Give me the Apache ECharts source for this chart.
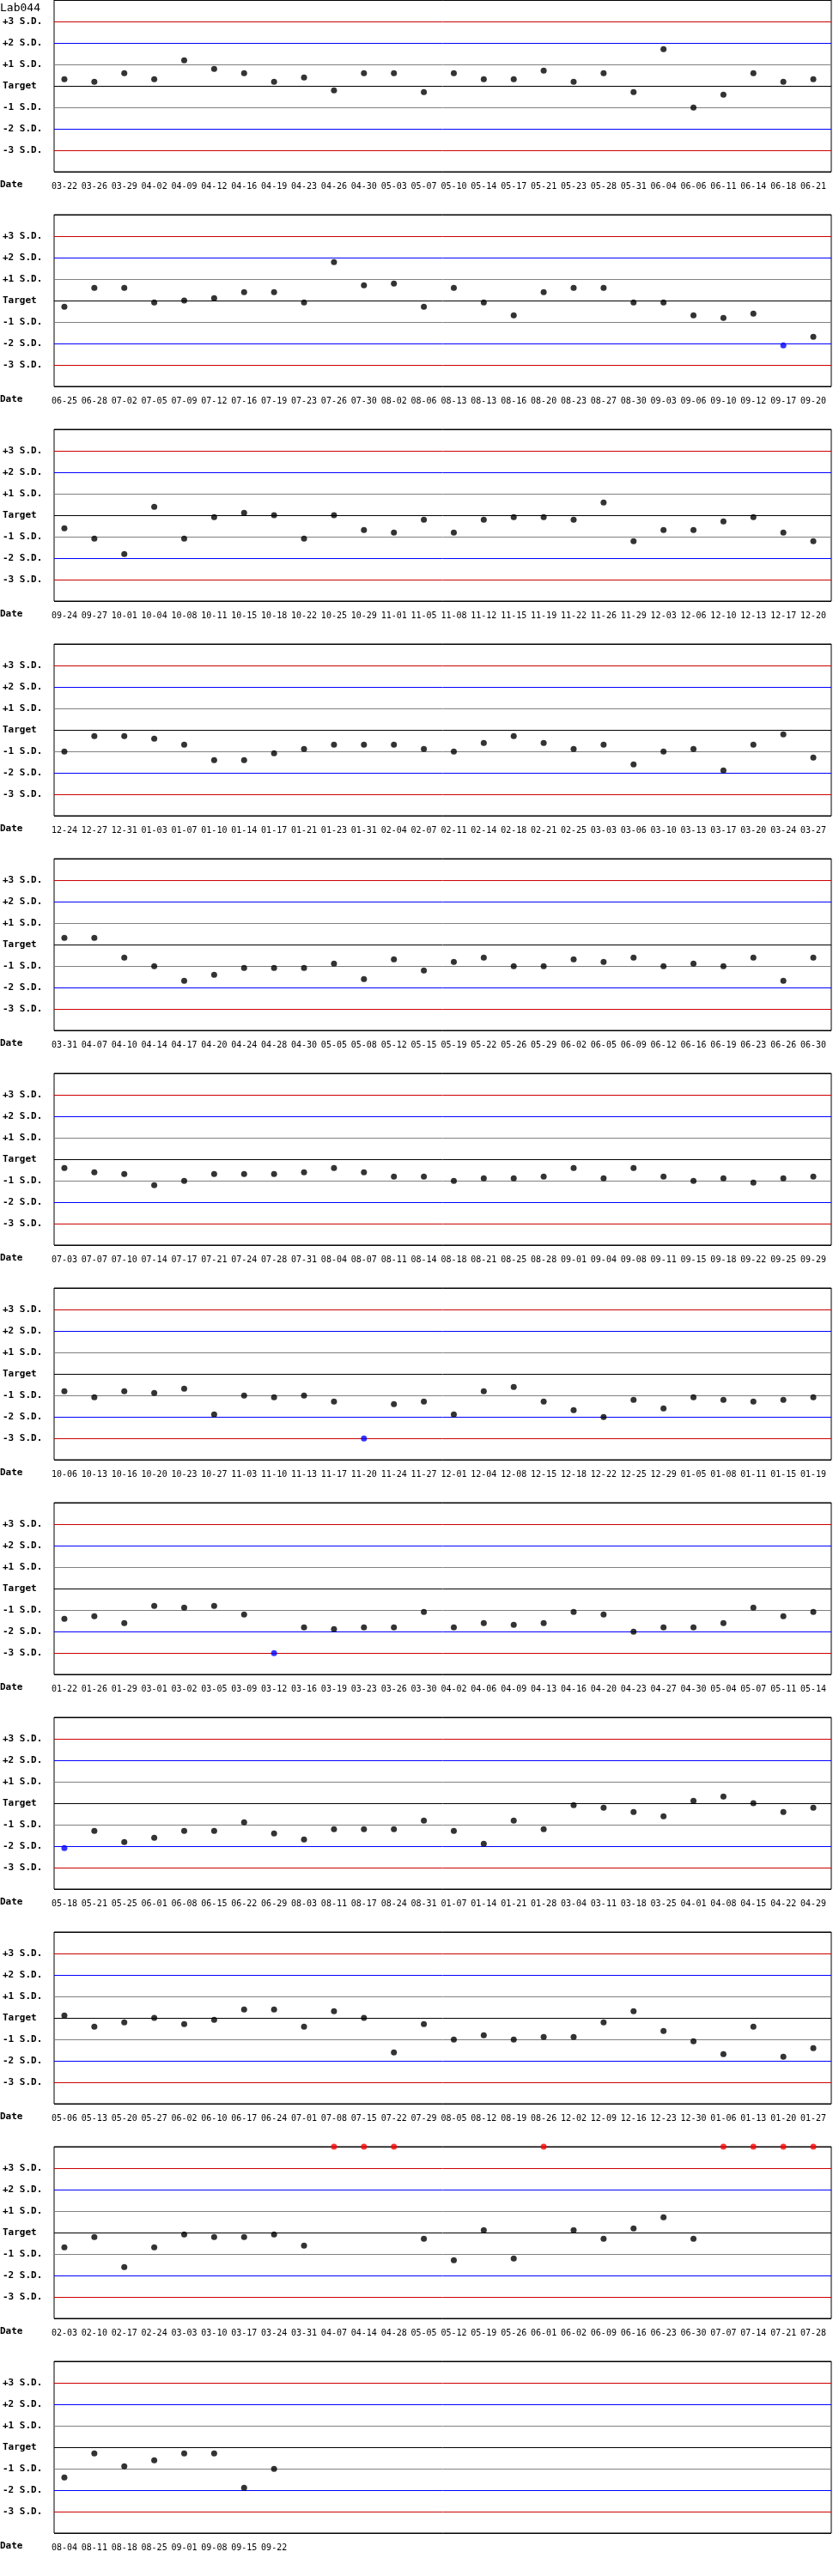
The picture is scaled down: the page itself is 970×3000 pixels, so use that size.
<!DOCTYPE html>
<html>
<head>
<meta charset="utf-8">
<script src="https://cdn.jsdelivr.net/npm/echarts@6/dist/echarts.min.js"></script>
<style>
html,body{margin:0;padding:0;background:#fff;}
#chart{width:970px;height:3000px;}
</style>
</head>
<body>
<div id="chart"></div>
<script>
// ---- data (values in S.D. units from target; 'high' = above chart range) ----
const HIGH = 'high';
const chartTitle = 'Lab044';
const yTickLabels = ['+3 S.D.', '+2 S.D.', '+1 S.D.', 'Target', '-1 S.D.', '-2 S.D.', '-3 S.D.'];
const yTickValues = [3, 2, 1, 0, -1, -2, -3];

const dates01 = ['03-22','03-26','03-29','04-02','04-09','04-12','04-16','04-19','04-23','04-26','04-30','05-03','05-07','05-10','05-14','05-17','05-21','05-23','05-28','05-31','06-04','06-06','06-11','06-14','06-18','06-21'];
const sd01 = [0.31,0.19,0.59,0.31,1.19,0.79,0.59,0.19,0.39,-0.21,0.59,0.59,-0.29,0.59,0.31,0.31,0.71,0.19,0.59,-0.29,1.71,-1.01,-0.41,0.59,0.19,0.31];

const dates02 = ['06-25','06-28','07-02','07-05','07-09','07-12','07-16','07-19','07-23','07-26','07-30','08-02','08-06','08-13','08-13','08-16','08-20','08-23','08-27','08-30','09-03','09-06','09-10','09-12','09-17','09-20'];
const sd02 = [-0.29,0.59,0.59,-0.09,0,0.11,0.39,0.39,-0.09,1.79,0.71,0.79,-0.29,0.59,-0.09,-0.69,0.39,0.59,0.59,-0.09,-0.09,-0.69,-0.81,-0.61,-2.09,-1.69];

const dates03 = ['09-24','09-27','10-01','10-04','10-08','10-11','10-15','10-18','10-22','10-25','10-29','11-01','11-05','11-08','11-12','11-15','11-19','11-22','11-26','11-29','12-03','12-06','12-10','12-13','12-17','12-20'];
const sd03 = [-0.61,-1.09,-1.81,0.39,-1.09,-0.09,0.11,0,-1.09,0,-0.69,-0.81,-0.21,-0.81,-0.21,-0.09,-0.09,-0.21,0.59,-1.21,-0.69,-0.69,-0.29,-0.09,-0.81,-1.21];

const dates04 = ['12-24','12-27','12-31','01-03','01-07','01-10','01-14','01-17','01-21','01-23','01-31','02-04','02-07','02-11','02-14','02-18','02-21','02-25','03-03','03-06','03-10','03-13','03-17','03-20','03-24','03-27'];
const sd04 = [-1.01,-0.29,-0.29,-0.41,-0.69,-1.41,-1.41,-1.09,-0.89,-0.69,-0.69,-0.69,-0.89,-1.01,-0.61,-0.29,-0.61,-0.89,-0.69,-1.61,-1.01,-0.89,-1.89,-0.69,-0.21,-1.29];

const dates05 = ['03-31','04-07','04-10','04-14','04-17','04-20','04-24','04-28','04-30','05-05','05-08','05-12','05-15','05-19','05-22','05-26','05-29','06-02','06-05','06-09','06-12','06-16','06-19','06-23','06-26','06-30'];
const sd05 = [0.31,0.31,-0.61,-1.01,-1.69,-1.41,-1.09,-1.09,-1.09,-0.89,-1.61,-0.69,-1.21,-0.81,-0.61,-1.01,-1.01,-0.69,-0.81,-0.61,-1.01,-0.89,-1.01,-0.61,-1.69,-0.61];

const dates06 = ['07-03','07-07','07-10','07-14','07-17','07-21','07-24','07-28','07-31','08-04','08-07','08-11','08-14','08-18','08-21','08-25','08-28','09-01','09-04','09-08','09-11','09-15','09-18','09-22','09-25','09-29'];
const sd06 = [-0.41,-0.61,-0.69,-1.21,-1.01,-0.69,-0.69,-0.69,-0.61,-0.41,-0.61,-0.81,-0.81,-1.01,-0.89,-0.89,-0.81,-0.41,-0.89,-0.41,-0.81,-1.01,-0.89,-1.09,-0.89,-0.81];

const dates07 = ['10-06','10-13','10-16','10-20','10-23','10-27','11-03','11-10','11-13','11-17','11-20','11-24','11-27','12-01','12-04','12-08','12-15','12-18','12-22','12-25','12-29','01-05','01-08','01-11','01-15','01-19'];
const sd07 = [-0.81,-1.09,-0.81,-0.89,-0.69,-1.89,-1.01,-1.09,-1.01,-1.29,-3.01,-1.41,-1.29,-1.89,-0.81,-0.61,-1.29,-1.69,-2.01,-1.21,-1.61,-1.09,-1.21,-1.29,-1.21,-1.09];

const dates08 = ['01-22','01-26','01-29','03-01','03-02','03-05','03-09','03-12','03-16','03-19','03-23','03-26','03-30','04-02','04-06','04-09','04-13','04-16','04-20','04-23','04-27','04-30','05-04','05-07','05-11','05-14'];
const sd08 = [-1.41,-1.29,-1.61,-0.81,-0.89,-0.81,-1.21,-3.01,-1.81,-1.89,-1.81,-1.81,-1.09,-1.81,-1.61,-1.69,-1.61,-1.09,-1.21,-2.01,-1.81,-1.81,-1.61,-0.89,-1.29,-1.09];

const dates09 = ['05-18','05-21','05-25','06-01','06-08','06-15','06-22','06-29','08-03','08-11','08-17','08-24','08-31','01-07','01-14','01-21','01-28','03-04','03-11','03-18','03-25','04-01','04-08','04-15','04-22','04-29'];
const sd09 = [-2.09,-1.29,-1.81,-1.61,-1.29,-1.29,-0.89,-1.41,-1.69,-1.21,-1.21,-1.21,-0.81,-1.29,-1.89,-0.81,-1.21,-0.09,-0.21,-0.41,-0.61,0.11,0.31,0,-0.41,-0.21];

const dates10 = ['05-06','05-13','05-20','05-27','06-02','06-10','06-17','06-24','07-01','07-08','07-15','07-22','07-29','08-05','08-12','08-19','08-26','12-02','12-09','12-16','12-23','12-30','01-06','01-13','01-20','01-27'];
const sd10 = [0.11,-0.41,-0.21,0,-0.29,-0.09,0.39,0.39,-0.41,0.31,0,-1.61,-0.29,-1.01,-0.81,-1.01,-0.89,-0.89,-0.21,0.31,-0.61,-1.09,-1.69,-0.41,-1.81,-1.41];

const dates11 = ['02-03','02-10','02-17','02-24','03-03','03-10','03-17','03-24','03-31','04-07','04-14','04-28','05-05','05-12','05-19','05-26','06-01','06-02','06-09','06-16','06-23','06-30','07-07','07-14','07-21','07-28'];
const sd11 = [-0.69,-0.21,-1.61,-0.69,-0.09,-0.21,-0.21,-0.09,-0.61,HIGH,HIGH,HIGH,-0.29,-1.29,0.11,-1.21,HIGH,0.11,-0.29,0.19,0.71,-0.29,HIGH,HIGH,HIGH,HIGH];

const dates12 = ['08-04','08-11','08-18','08-25','09-01','09-08','09-15','09-22'];
const sd12 = [-1.41,-0.29,-0.89,-0.61,-0.29,-0.29,-1.89,-1.01];

const panels = [
  [dates01, sd01], [dates02, sd02], [dates03, sd03], [dates04, sd04],
  [dates05, sd05], [dates06, sd06], [dates07, sd07], [dates08, sd08],
  [dates09, sd09], [dates10, sd10], [dates11, sd11], [dates12, sd12]
];

// ---- layout / style ----
const PANEL_H = 250, PLOT_H = 200, LEFT = 60, RIGHT = 2;
const SLOT = 35;          // px per point
const FIRST_X = 12;       // px from plot left to first point
const PLOT_W = 970 - LEFT - RIGHT;
const X_MIN = -FIRST_X / SLOT;
const X_MAX = (PLOT_W - FIRST_X) / SLOT;
const Y_MIN = -4, Y_MAX = 4;
const MONO = '"DejaVu Sans Mono", "Liberation Mono", monospace';
const lineColors = ['#000000', '#cc0000', '#0000ff', '#808080', '#000000', '#808080', '#0000ff', '#cc0000', '#000000'];

const grids = [], xAxes = [], yAxes = [], series = [], graphics = [];

panels.forEach(([dates, vals], k) => {
  const top = k * PANEL_H;
  grids.push({
    left: LEFT, right: RIGHT, top: top, height: PLOT_H,
    show: true, borderColor: '#000', borderWidth: 1, backgroundColor: 'transparent'
  });
  xAxes.push({
    type: 'value', gridIndex: k, min: X_MIN, max: X_MAX,
    axisLine: { show: false }, axisTick: { show: false }, splitLine: { show: false },
    axisLabel: {
      customValues: dates.map((d, i) => i),
      formatter: v => dates[Math.round(v)] || '',
      margin: 12, color: '#000', fontFamily: MONO, fontSize: 10, hideOverlap: false
    }
  });
  yAxes.push({
    type: 'value', gridIndex: k, min: Y_MIN, max: Y_MAX, interval: 1,
    axisLine: { show: false }, axisTick: { show: false },
    splitLine: { show: true, lineStyle: { color: lineColors, width: 1 } },
    axisLabel: {
      formatter: v => { const j = yTickValues.indexOf(v); return j >= 0 ? yTickLabels[j] : ''; },
      align: 'left', margin: LEFT, color: '#000', fontFamily: MONO, fontSize: 11, fontWeight: 'bold'
    }
  });
  series.push({
    type: 'scatter', xAxisIndex: k, yAxisIndex: k, symbol: 'circle', symbolSize: 7,
    clip: false, animation: false,
    data: vals.map((v, i) => {
      const high = v === HIGH;
      const y = high ? Y_MAX : v;
      const color = high ? '#ff0000' : (Math.abs(v) > 2.05 ? '#0000ff' : '#000000');
      return { value: [i, y], itemStyle: { color: color } };
    })
  });
  graphics.push({
    type: 'text', left: 0, top: top + 210,
    style: { text: 'Date', font: 'bold 11px ' + MONO, fill: '#000' }
  });
});

graphics.push({
  type: 'text', left: 0, top: 3,
  style: { text: chartTitle, font: '13px ' + MONO, fill: '#000' }
});

const chart = echarts.init(document.getElementById('chart'), null, { renderer: 'canvas' });
chart.setOption({
  animation: false,
  backgroundColor: '#ffffff',
  grid: grids,
  xAxis: xAxes,
  yAxis: yAxes,
  series: series,
  graphic: graphics
});
</script>
</body>
</html>
